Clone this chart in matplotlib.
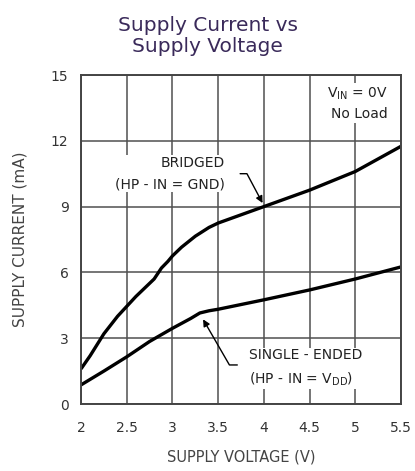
import matplotlib
matplotlib.use("Agg")
import matplotlib.pyplot as plt

bridged_v = [2.0, 2.1, 2.25, 2.4, 2.6, 2.8, 2.88, 2.95, 3.0, 3.1, 3.25, 3.4, 3.5, 3.7, 4.0, 4.5, 5.0, 5.5]
bridged_i = [1.6, 2.2, 3.2, 4.0, 4.9, 5.7, 6.2, 6.5, 6.75, 7.15, 7.65, 8.05, 8.25, 8.55, 9.0, 9.75, 10.6, 11.75]
single_v = [2.0, 2.25, 2.5, 2.75, 3.0, 3.2, 3.3, 3.4, 3.5, 4.0, 4.5, 5.0, 5.5]
single_i = [0.87, 1.5, 2.15, 2.85, 3.45, 3.9, 4.15, 4.25, 4.32, 4.75, 5.2, 5.7, 6.25]
x_ticks = [2, 2.5, 3, 3.5, 4, 4.5, 5, 5.5]
x_tick_labels = ["2", "2.5", "3", "3.5", "4", "4.5", "5", "5.5"]
y_ticks = [0, 3, 6, 9, 12, 15]
y_tick_labels = ["0", "3", "6", "9", "12", "15"]

fig = plt.figure(figsize=(4.15, 4.71), dpi=100)
ax = fig.add_axes([81/415, 1-404/471, 320/415, 329/471])

ax.plot(bridged_v, bridged_i, color="black", lw=2.4, solid_capstyle="butt")
ax.plot(single_v, single_i, color="black", lw=2.4, solid_capstyle="butt")

ax.set_xlim(2, 5.5)
ax.set_ylim(0, 15)
ax.set_xticks(x_ticks)
ax.set_yticks(y_ticks)
ax.set_xticklabels(x_tick_labels, fontsize=10)
ax.set_yticklabels(y_tick_labels, fontsize=10)
ax.tick_params(length=0, colors="#333333")
ax.tick_params(axis="x", pad=12)
ax.tick_params(axis="y", pad=9)
ax.grid(True, color="#505050", lw=1.1)
for s in ax.spines.values():
    s.set_linewidth(1.4)
    s.set_color("#444444")

ax.set_xlabel("SUPPLY VOLTAGE (V)", fontsize=10.5, color="#444444", labelpad=11)
ax.set_ylabel("SUPPLY CURRENT (mA)", fontsize=11, color="#444444", labelpad=17)

fig.text(0.5, 1-36/471, "Supply Current vs\nSupply Voltage", ha="center", va="center",
         fontsize=14.5, color="#3a2a5a", linespacing=1.15)

ax.text(5.36, 13.7, "V$_{\\rm IN}$ = 0V\nNo Load", ha="right", va="center", fontsize=10,
        color="#222222", linespacing=1.45,
        bbox=dict(facecolor="white", edgecolor="none", pad=1))

ax.text(3.57, 10.5, "BRIDGED\n(HP - IN = GND)", ha="right", va="center", fontsize=10,
        color="#222222", multialignment="right", linespacing=1.6,
        bbox=dict(facecolor="white", edgecolor="none", pad=1))
ax.annotate("", xy=(4.0, 9.05), xytext=(3.71, 10.5),
            arrowprops=dict(arrowstyle="-|>", color="black", lw=1.0,
                            connectionstyle="angle,angleA=0,angleB=118,rad=0", mutation_scale=10))

ax.text(3.84, 1.64, "SINGLE - ENDED\n(HP - IN = V$_{\\rm DD}$)", ha="left", va="center", fontsize=10,
        color="#222222", linespacing=1.6,
        bbox=dict(facecolor="white", edgecolor="none", pad=1))
ax.annotate("", xy=(3.32, 3.97), xytext=(3.74, 1.78),
            arrowprops=dict(arrowstyle="-|>", color="black", lw=1.0,
                            connectionstyle="angle,angleA=180,angleB=-60,rad=0", mutation_scale=10))

fig.savefig("out.png", dpi=100)
